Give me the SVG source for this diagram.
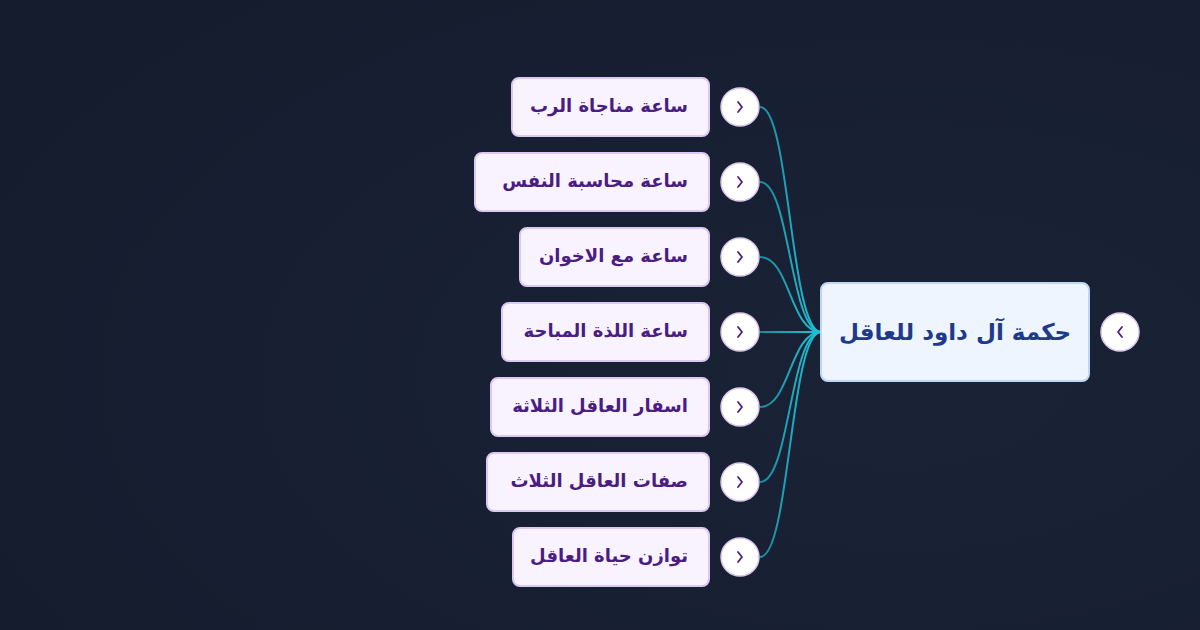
<svg xmlns="http://www.w3.org/2000/svg" width="1200" height="630" viewBox="0 0 1200 630">
<defs>
<radialGradient id="bg" cx="0.75" cy="0.6" r="0.9">
<stop offset="0" stop-color="#1a2236"/>
<stop offset="1" stop-color="#151c2e"/>
</radialGradient>
<linearGradient id="edge" x1="760" y1="0" x2="822" y2="0" gradientUnits="userSpaceOnUse">
<stop offset="0" stop-color="#1a8a9c"/>
<stop offset="1" stop-color="#1fc4da"/>
</linearGradient>
<style>
.child rect{fill:#f8f3fe;stroke:#dcc8f4;stroke-width:2}
.child text{font-family:"DejaVu Sans",sans-serif;font-weight:bold;font-size:18px;fill:#4b1d83;text-anchor:end}
.btn circle{fill:#ffffff;stroke:#d9c6f0;stroke-width:1.5}
.btn path{fill:none;stroke:#4b1d83;stroke-width:1.8;stroke-linecap:round;stroke-linejoin:round}
.edges path{fill:none;stroke:url(#edge);stroke-width:2}
</style>
</defs>
<rect width="1200" height="630" fill="url(#bg)"/>
<g class="edges" id="connectors">
<path d="M760 107 C790 107,790 332,821 332"/>
<path d="M760 182 C790 182,790 332,821 332"/>
<path d="M760 257 C790 257,790 332,821 332"/>
<path d="M760 332 L821 332"/>
<path d="M760 407 C790 407,790 332,821 332"/>
<path d="M760 482 C790 482,790 332,821 332"/>
<path d="M760 557 C790 557,790 332,821 332"/>
</g>
<g id="root">
<rect x="821" y="283" width="268" height="98" rx="7" fill="#eef5ff" stroke="#bcd6f6" stroke-width="2"/>
<text x="955" y="340" font-family="'DejaVu Sans',sans-serif" font-weight="bold" font-size="23" fill="#1e3a8a" text-anchor="middle">حكمة آل داود للعاقل</text>
<g class="btn"><circle cx="1120" cy="332" r="19" stroke="#c7dbf5"/><path d="M1122 327 L1118 332 L1122 337" stroke="#1e3a8a"/></g>
</g>
<g id="n1" class="child"><rect x="512" y="78" width="197" height="58" rx="7"/><text x="688" y="112">ساعة مناجاة الرب</text></g>
<g id="n2" class="child"><rect x="475" y="153" width="234" height="58" rx="7"/><text x="688" y="187">ساعة محاسبة النفس</text></g>
<g id="n3" class="child"><rect x="520" y="228" width="189" height="58" rx="7"/><text x="688" y="262">ساعة مع الاخوان</text></g>
<g id="n4" class="child"><rect x="502" y="303" width="207" height="58" rx="7"/><text x="688" y="337">ساعة اللذة المباحة</text></g>
<g id="n5" class="child"><rect x="491" y="378" width="218" height="58" rx="7"/><text x="688" y="412">اسفار العاقل الثلاثة</text></g>
<g id="n6" class="child"><rect x="487" y="453" width="222" height="58" rx="7"/><text x="688" y="487">صفات العاقل الثلاث</text></g>
<g id="n7" class="child"><rect x="513" y="528" width="196" height="58" rx="7"/><text x="688" y="562">توازن حياة العاقل</text></g>
<g class="btn" id="toggles">
<circle cx="740" cy="107" r="19"/><path d="M738 102 L742 107 L738 112"/>
<circle cx="740" cy="182" r="19"/><path d="M738 177 L742 182 L738 187"/>
<circle cx="740" cy="257" r="19"/><path d="M738 252 L742 257 L738 262"/>
<circle cx="740" cy="332" r="19"/><path d="M738 327 L742 332 L738 337"/>
<circle cx="740" cy="407" r="19"/><path d="M738 402 L742 407 L738 412"/>
<circle cx="740" cy="482" r="19"/><path d="M738 477 L742 482 L738 487"/>
<circle cx="740" cy="557" r="19"/><path d="M738 552 L742 557 L738 562"/>
</g>
</svg>
